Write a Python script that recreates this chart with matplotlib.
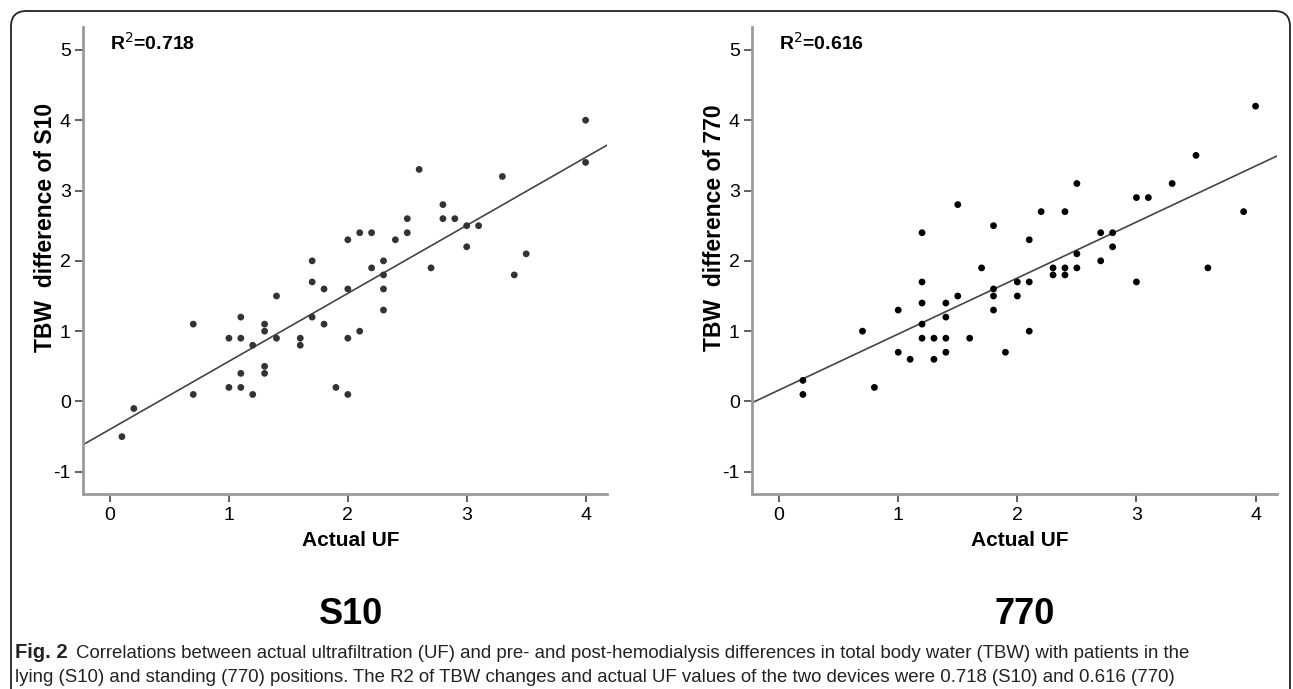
import matplotlib
matplotlib.use("Agg")
import matplotlib.pyplot as plt
import numpy as np
from matplotlib.patches import FancyBboxPatch

plt.rcParams["axes.unicode_minus"] = False

# Actual UF vs TBW difference, S10 (lying)
S10_UF = [0.1, 0.2, 0.7, 0.7, 1.0, 1.0, 1.1, 1.1, 1.1, 1.1, 1.2, 1.2, 1.3, 1.3,
          1.3, 1.3, 1.4, 1.4, 1.6, 1.6, 1.7, 1.7, 1.7, 1.8, 1.8, 1.9, 2.0, 2.0,
          2.0, 2.0, 2.1, 2.1, 2.2, 2.2, 2.3, 2.3, 2.3, 2.3, 2.4, 2.5, 2.5, 2.6,
          2.7, 2.8, 2.8, 2.9, 3.0, 3.0, 3.1, 3.3, 3.4, 3.5, 4.0, 4.0]
S10_TBW = [-0.5, -0.1, 1.1, 0.1, 0.9, 0.2, 1.2, 0.9, 0.4, 0.2, 0.8, 0.1, 1.1, 1.0,
           0.5, 0.4, 1.5, 0.9, 0.9, 0.8, 2.0, 1.7, 1.2, 1.6, 1.1, 0.2, 2.3, 1.6,
           0.9, 0.1, 1.0, 2.4, 2.4, 1.9, 2.0, 1.8, 1.6, 1.3, 2.3, 2.6, 2.4, 3.3,
           1.9, 2.8, 2.6, 2.6, 2.5, 2.2, 2.5, 3.2, 1.8, 2.1, 4.0, 3.4]

# Actual UF vs TBW difference, 770 (standing)
D770_UF = [0.2, 0.2, 0.7, 0.8, 1.0, 1.0, 1.1, 1.2, 1.2, 1.2, 1.2, 1.2, 1.3, 1.3,
           1.4, 1.4, 1.4, 1.4, 1.5, 1.5, 1.6, 1.7, 1.8, 1.8, 1.8, 1.8, 1.9, 2.0,
           2.0, 2.1, 2.1, 2.1, 2.2, 2.3, 2.3, 2.4, 2.4, 2.4, 2.5, 2.5, 2.5, 2.7,
           2.7, 2.8, 2.8, 3.0, 3.0, 3.1, 3.3, 3.5, 3.6, 3.9, 4.0]
D770_TBW = [0.3, 0.1, 1.0, 0.2, 1.3, 0.7, 0.6, 2.4, 1.7, 1.4, 1.1, 0.9, 0.9, 0.6,
            1.4, 1.2, 0.9, 0.7, 2.8, 1.5, 0.9, 1.9, 2.5, 1.6, 1.5, 1.3, 0.7, 1.7,
            1.5, 2.3, 1.7, 1.0, 2.7, 1.9, 1.8, 2.7, 1.9, 1.8, 3.1, 2.1, 1.9, 2.4,
            2.0, 2.4, 2.2, 2.9, 1.7, 2.9, 3.1, 3.5, 1.9, 2.7, 4.2]

R2_LABELS = ["R$^2$=0.718", "R$^2$=0.616"]
DEVICES = ["S10", "770"]
X_TICKS = [0, 1, 2, 3, 4]
Y_TICKS = [-1, 0, 1, 2, 3, 4, 5]

CAPTION_1 = ("Correlations between actual ultrafiltration (UF) and pre- and post-hemodialysis "
             "differences in total body water (TBW) with patients in the")
CAPTION_2 = ("lying (S10) and standing (770) positions. The R2 of TBW changes and actual UF "
             "values of the two devices were 0.718 (S10) and 0.616 (770)")

FONT = ["Liberation Sans Narrow", "Liberation Sans", "DejaVu Sans"]
SPINE = "#9a9a9a"

W, H = 1293, 689
fig = plt.figure(figsize=(W / 100, H / 100), dpi=100)


def px_rect(x0, y0, x1, y1):
    return [x0 / W, 1 - y1 / H, (x1 - x0) / W, (y1 - y0) / H]


def panel(rect, xs, ys, r2, device, color, title_x):
    ax = fig.add_axes(rect)
    ax.scatter(xs, ys, s=24, color=color, edgecolors="none", zorder=3)
    xlim = (-0.225, 4.18)
    slope, icpt = np.polyfit(xs, ys, 1)
    lx = np.array(xlim)
    ax.plot(lx, slope * lx + icpt, color="#444444", lw=1.2, zorder=2)
    ax.set_xlim(*xlim)
    ax.set_ylim(-1.32, 5.33)
    ax.set_xticks(X_TICKS)
    ax.set_yticks(Y_TICKS)
    for s in ("top", "right"):
        ax.spines[s].set_visible(False)
    for s in ("left", "bottom"):
        ax.spines[s].set_color(SPINE)
        ax.spines[s].set_linewidth(2)
    ax.tick_params(direction="out", length=6, width=1.3, color="#555555",
                   labelsize=14, pad=3)
    for lab in ax.get_xticklabels() + ax.get_yticklabels():
        lab.set_family(FONT)
    ax.set_xlabel("Actual UF", family=FONT, fontweight="bold", fontsize=15)
    ax.xaxis.set_label_coords(0.51, -0.078)
    ax.set_ylabel(f"TBW  difference of {device}", family=FONT,
                  fontweight="bold", fontsize=16.5)
    ax.yaxis.set_label_coords(-0.05, 0.57)
    ax.text(0.051, 0.965, r2, transform=ax.transAxes, family=FONT,
            fontweight="bold", fontsize=14, va="center", ha="left")
    fig.text(title_x / W, 1 - 615 / H, device, family=FONT, fontweight="bold",
             fontsize=26, ha="center", va="center")
    return ax


panel(px_rect(83.3, 26.7, 607, 494.3), S10_UF, S10_TBW, R2_LABELS[0], DEVICES[0],
      "#333333", 351)
panel(px_rect(752.3, 26.7, 1277, 494.3), D770_UF, D770_TBW, R2_LABELS[1], DEVICES[1],
      "#000000", 1025)

# rounded frame around the whole figure
frame = FancyBboxPatch((11 / W, -0.2), (1290 - 11) / W, 1.2 - 11 / H,
                       boxstyle="round,pad=0,rounding_size=0.012",
                       transform=fig.transFigure, fill=False,
                       edgecolor="#222222", lw=1.3, mutation_aspect=W / H)
fig.patches.append(frame)

cap_kw = dict(family=FONT, color="#222222", va="center", ha="left")
fig.text(15 / W, 1 - 653 / H, "Fig. 2", fontweight="bold", fontsize=14.5, **cap_kw)
fig.text(76 / W, 1 - 653 / H, CAPTION_1, fontsize=13.4, **cap_kw)
fig.text(15 / W, 1 - 677 / H, CAPTION_2, fontsize=13.4, **cap_kw)

fig.savefig("out.png", dpi=100)
